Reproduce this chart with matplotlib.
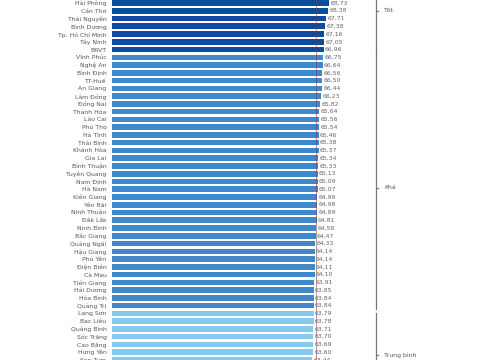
import matplotlib
matplotlib.use("Agg")
import matplotlib.pyplot as plt

provinces = ["Hải Phòng", "Cần Thơ", "Thái Nguyên", "Bình Dương", "Tp. Hồ Chí Minh", "Tây Ninh", "BRVT",
             "Vĩnh Phúc", "Nghệ An", "Bình Định", "TT-Huế", "An Giang", "Lâm Đồng", "Đồng Nai",
             "Thanh Hóa", "Lào Cai", "Phú Thọ", "Hà Tĩnh", "Thái Bình", "Khánh Hòa", "Gia Lai",
             "Bình Thuận", "Tuyên Quang", "Nam Định", "Hà Nam", "Kiên Giang", "Yên Bái", "Ninh Thuận",
             "Đắk Lắk", "Ninh Bình", "Bắc Giang", "Quảng Ngãi", "Hậu Giang", "Phú Yên", "Điện Biên",
             "Cà Mau", "Tiền Giang", "Hải Dương", "Hòa Bình", "Quảng Trị",
             "Lạng Sơn", "Bạc Liêu", "Quảng Bình", "Sóc Trăng", "Cao Bằng", "Hưng Yên", "Kon Tum"]
values = [68.73, 68.38, 67.71, 67.38, 67.16, 67.05, 66.96,
          66.75, 66.64, 66.56, 66.50, 66.44, 66.23, 65.82,
          65.64, 65.56, 65.54, 65.46, 65.38, 65.37, 65.34,
          65.33, 65.13, 65.09, 65.07, 64.99, 64.98, 64.89,
          64.81, 64.58, 64.47, 64.33, 64.14, 64.14, 64.11,
          64.10, 63.91, 63.85, 63.84, 63.84,
          63.79, 63.78, 63.71, 63.70, 63.69, 63.60, 63.44]
groups = ["Tốt"] * 7 + ["Khá"] * 33 + ["Trung bình"] * 7
group_colors = {"Tốt": "#0b4c9f", "Khá": "#3f88cc", "Trung bình": "#86cbef"}
reference_value = 64.6

W, H = 480, 360
fig = plt.figure(figsize=(W / 100, H / 100), dpi=100)
left_px = 112
ax = fig.add_axes([left_px / W, 0, 1 - left_px / W, 1])
px_per_unit = 3.16
ax.set_xlim(0, (W - left_px) / px_per_unit)
row_px = 7.76
top_px = 3
ax.set_ylim((H - top_px) / row_px, -top_px / row_px)

fs = 4.4
ys = list(range(len(provinces)))
colors = [group_colors[g] for g in groups]
ax.barh(ys, values, height=0.72, color=colors, zorder=2)
ax.axvline(reference_value, color="#8a2f3f", lw=0.6, alpha=0.6, zorder=3)

for y, v in zip(ys, values):
    ax.text(v + 0.4, y, f"{v:.2f}".replace(".", ","), va="center", ha="left",
            fontsize=fs, color="#666666", zorder=4)

ax.set_yticks(ys)
ax.set_yticklabels(provinces, fontsize=fs, color="#555555")
ax.tick_params(axis="y", length=0, pad=4)
ax.tick_params(axis="x", length=0, labelbottom=False)
for s in ax.spines.values():
    s.set_visible(False)

# brackets
bx = (376 - left_px) / px_per_unit
spans = {"Tốt": (-1.0, 6.35), "Khá": (6.5, 39.4), "Trung bình": (39.9, 47.5)}
label_rows = {"Tốt": 1.0, "Khá": 23.8, "Trung bình": 45.4}
for g, (y0, y1) in spans.items():
    ax.plot([bx, bx], [y0, y1], color="#777777", lw=0.9, clip_on=False, zorder=1)
    ax.plot([bx, bx + 0.6], [label_rows[g], label_rows[g]], color="#777777", lw=0.9, clip_on=False)
    ax.text(bx + 2.5, label_rows[g], g, fontsize=fs, color="#555555", va="center", ha="left")

fig.savefig("out.png", dpi=100)
